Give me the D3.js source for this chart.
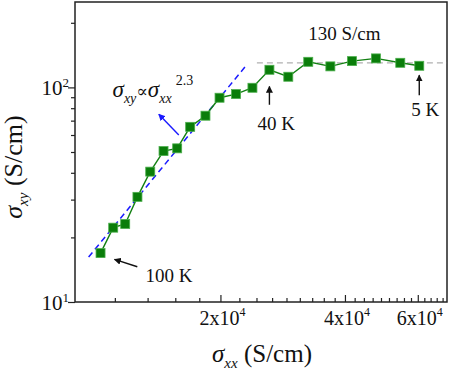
<!DOCTYPE html>
<html>
<head>
<meta charset="UTF-8">
<title>sigma_xy vs sigma_xx</title>
<script src="https://d3js.org/d3.v7.min.js"></script>
<style>
  body { margin: 0; background: #fff; }
  svg { display: block; }
  svg text { font-family: "Liberation Serif", "Times New Roman", "DejaVu Serif", serif; }
  .tick line { stroke: #222; stroke-width: 1.2; }
</style>
</head>
<body>
<div id="chart"></div>
<script>
  // data
  const sigmaXX = [10260, 11010, 11770, 12600, 13530, 14570, 15720, 16900, 18400, 19900,
                   21820, 23900, 26270, 29180, 32610, 36880, 41600, 47540, 54430, 60500];
  const sigmaXY = [16.9, 22.2, 23.1, 30.9, 40.5, 50.5, 52.0, 65.5, 73.8, 89.5,
                   93.1, 99.6, 120.8, 112.1, 131.6, 125.3, 132.6, 136.5, 130.2, 126.1];
  const fitLine = [[9600, 16.2], [23200, 128]];   // sigma_xy ~ sigma_xx^2.3
  const plateau = 130;                              // S/cm
  const plateauStart = 24500;
  const xMajor = [20000, 40000, 60000];
  const xMajorLabels = ["2", "4", "6"];
  const yMajor = [10, 100];
  const yMajorLabels = ["1", "2"];
  const yMinor = [20, 30, 40, 50, 60, 70, 80, 90, 200];

  const W = 450, H = 374;
  const FONT = "'Liberation Serif', 'Times New Roman', 'DejaVu Serif', serif";
  const svg = d3.select("#chart").append("svg")
    .attr("width", W).attr("height", H)
    .attr("font-family", FONT);

  const x = d3.scaleLog().domain([8900, 70600]).range([75, 447]);
  const y = d3.scaleLog().domain([10, 250]).range([302, 2]);

  const xMinor = d3.range(1, 32).map(i => i * 20000 / 9)
    .filter(v => v > x.domain()[0] && v < x.domain()[1] && !xMajor.some(m => Math.abs(m - v) < 1));

  svg.append("defs").selectAll("marker")
    .data([["arrK", "#111"], ["arrB", "#1a1aff"]])
    .join("marker")
    .attr("id", d => d[0])
    .attr("viewBox", "0 0 10 10")
    .attr("refX", 9).attr("refY", 5)
    .attr("markerWidth", 7).attr("markerHeight", 7)
    .attr("markerUnits", "userSpaceOnUse")
    .attr("orient", "auto")
    .append("path").attr("d", "M0,0 L10,5 L0,10 z").attr("fill", d => d[1]);

  // x axis (ticks inward)
  const gx = svg.append("g").attr("transform", "translate(0,302)");
  gx.call(d3.axisBottom(x).tickValues(xMinor).tickSize(-4).tickFormat(""));
  gx.append("g").call(d3.axisBottom(x).tickValues(xMajor).tickSize(-7).tickFormat(""));
  gx.selectAll(".domain").remove();
  gx.selectAll("text").remove();
  const xl = gx.selectAll(".xlab").data(xMajor).join("text")
    .attr("class", "xlab")
    .attr("x", d => x(d) + 2).attr("y", 23)
    .attr("text-anchor", "middle")
    .attr("font-family", FONT)
    .attr("font-size", 20).attr("fill", "#111");
  xl.append("tspan").text((d, i) => xMajorLabels[i] + "x10");
  xl.append("tspan").attr("font-size", 12).attr("dy", -9).text("4");

  // y axis (ticks outward)
  const gy = svg.append("g").attr("transform", "translate(75,0)");
  gy.call(d3.axisLeft(y).tickValues(yMinor).tickSize(4).tickFormat(""));
  gy.append("g").call(d3.axisLeft(y).tickValues(yMajor).tickSize(7).tickFormat(""));
  gy.selectAll(".domain").remove();
  gy.selectAll("text").remove();
  const yl = gy.selectAll(".ylab").data(yMajor).join("text")
    .attr("class", "ylab")
    .attr("x", -6).attr("y", d => y(d) + 8)
    .attr("text-anchor", "end")
    .attr("font-family", FONT)
    .attr("font-size", 21).attr("fill", "#111");
  yl.append("tspan").text("10");
  yl.append("tspan").attr("font-size", 13).attr("dy", -8).text((d, i) => yMajorLabels[i]);

  // frame
  svg.append("rect")
    .attr("x", x.range()[0]).attr("y", y.range()[1])
    .attr("width", x.range()[1] - x.range()[0])
    .attr("height", y.range()[0] - y.range()[1])
    .attr("fill", "none").attr("stroke", "#222").attr("stroke-width", 1.5);

  // axis titles
  const xt = svg.append("text")
    .attr("x", 262).attr("y", 362)
    .attr("text-anchor", "middle")
    .attr("font-size", 25).attr("fill", "#111");
  xt.append("tspan").attr("font-style", "italic").text("σ");
  xt.append("tspan").attr("font-style", "italic").attr("font-size", 15).attr("dy", 6).text("xx");
  xt.append("tspan").attr("dy", -6).text(" (S/cm)");

  const yt = svg.append("text")
    .attr("transform", "translate(22,167) rotate(-90)")
    .attr("text-anchor", "middle")
    .attr("font-size", 26).attr("fill", "#111");
  yt.append("tspan").attr("font-style", "italic").text("σ");
  yt.append("tspan").attr("font-style", "italic").attr("font-size", 15).attr("dy", 6).text("xy");
  yt.append("tspan").attr("dy", -6).text(" (S/cm)");

  const plot = svg.append("g");

  // plateau reference
  plot.append("line")
    .attr("x1", x(plateauStart)).attr("x2", x.range()[1])
    .attr("y1", y(plateau)).attr("y2", y(plateau))
    .attr("stroke", "#b0b0b0").attr("stroke-width", 1.3).attr("stroke-dasharray", "6,4");

  // power-law fit
  plot.append("path")
    .datum(fitLine)
    .attr("d", d3.line().x(d => x(d[0])).y(d => y(d[1])))
    .attr("fill", "none").attr("stroke", "#1a1aff").attr("stroke-width", 1.5)
    .attr("stroke-dasharray", "6,4");

  const pts = sigmaXX.map((v, i) => [v, sigmaXY[i]]);
  plot.append("path")
    .datum(pts)
    .attr("d", d3.line().x(d => x(d[0])).y(d => y(d[1])))
    .attr("fill", "none").attr("stroke", "#138013").attr("stroke-width", 1.4);

  const s = 9;
  plot.selectAll("rect.pt").data(pts).join("rect")
    .attr("class", "pt")
    .attr("x", d => x(d[0]) - s / 2).attr("y", d => y(d[1]) - s / 2)
    .attr("width", s).attr("height", s)
    .attr("fill", "#0a7d0a").attr("stroke", "#4caf4c").attr("stroke-width", 0.8);

  // arrows
  const arrows = [
    [[12590, 14.6], [11090, 15.8], "arrK"],
    [[26270, 83], [26270, 101], "arrK"],
    [[60500, 92], [60500, 114], "arrK"],
    [[15860, 60], [14190, 75], "arrB"]
  ];
  plot.selectAll("line.arr").data(arrows).join("line")
    .attr("class", "arr")
    .attr("x1", d => x(d[0][0])).attr("y1", d => y(d[0][1]))
    .attr("x2", d => x(d[1][0])).attr("y2", d => y(d[1][1]))
    .attr("stroke", d => d[2] === "arrB" ? "#1a1aff" : "#111")
    .attr("stroke-width", 1.4)
    .attr("marker-end", d => `url(#${d[2]})`);

  // annotations
  const notes = [
    [32610, 166, "130 S/cm"],
    [13180, 12.4, "100 K"],
    [24570, 63.2, "40 K"],
    [57860, 73.5, "5 K"]
  ];
  plot.selectAll("text.note").data(notes).join("text")
    .attr("class", "note")
    .attr("x", d => x(d[0])).attr("y", d => y(d[1]))
    .attr("font-family", FONT)
    .attr("font-size", 19).attr("fill", "#111")
    .text(d => d[2]);

  const f = plot.append("text")
    .attr("x", x(10970)).attr("y", y(90.1))
    .attr("font-size", 23).attr("fill", "#111").attr("font-style", "italic");
  f.append("tspan").text("σ");
  f.append("tspan").attr("font-size", 14).attr("dy", 6).text("xy");
  f.append("tspan").attr("dy", -6).attr("font-style", "normal").attr("font-family", "'DejaVu Serif', serif").attr("font-size", 17).text("∝");
  f.append("tspan").text("σ");
  f.append("tspan").attr("font-size", 14).attr("dy", 6).text("xx");
  f.append("tspan").attr("font-size", 14).attr("font-style", "normal").attr("dy", -18).attr("dx", 4).text("2.3");
</script>
</body>
</html>
